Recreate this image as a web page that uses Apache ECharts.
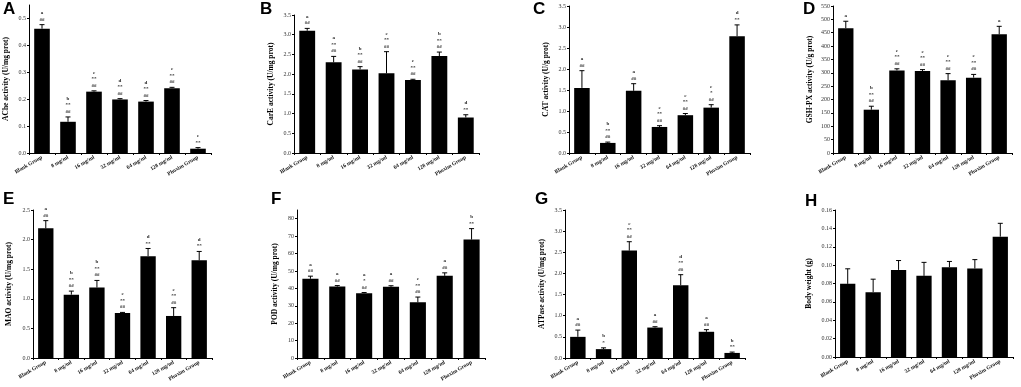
<!DOCTYPE html>
<html>
<head>
<meta charset="utf-8">
<script src="https://cdn.jsdelivr.net/npm/echarts@6/dist/echarts.min.js"></script>
<style>html,body{margin:0;padding:0;background:#fff}#main{width:1021px;height:387px}</style>
</head>
<body>
<div id="main"></div>
<script>
var groups = ['Blank Group', '8 mg/ml', '16 mg/ml', '32 mg/ml', '64 mg/ml', '128 mg/ml', 'Phoxim Group'];

// A - AChE
var acheMean = [0.462, 0.116, 0.228, 0.199, 0.191, 0.241, 0.016];
var acheErr = [0.015, 0.018, 0.003, 0.003, 0.004, 0.003, 0.004];
var acheMarks = ['a\n##', 'b\n**\n##', 'c\n**\n##', 'd\n**\n##', 'd\n**\n##', 'c\n**\n##', 'e\n**'];
// B - CarE
var careMean = [3.10, 2.30, 2.12, 2.02, 1.85, 2.46, 0.90];
var careErr = [0.06, 0.15, 0.07, 0.55, 0.02, 0.10, 0.07];
var careMarks = ['a\n##', 'a\n**\n##', 'b\n**\n##', 'c\n**\n##', 'c\n**\n##', 'b\n**\n##', 'd\n**'];
// C - CAT
var catMean = [1.55, 0.24, 1.48, 0.62, 0.90, 1.08, 2.78];
var catErr = [0.41, 0.02, 0.17, 0.03, 0.04, 0.07, 0.27];
var catMarks = ['a\n##', 'b\n**\n##', 'a\n##', 'c\n**\n##', 'c\n**\n##', 'c\n*\n##', 'd\n**'];
// D - GSH-PX
var gshMean = [467, 162, 309, 307, 272, 282, 444];
var gshErr = [26, 13, 6, 5, 25, 12, 30];
var gshMarks = ['a', 'b\n**\n##', 'c\n**\n##', 'c\n**\n##', 'c\n**\n##', 'c\n**\n##', 'a'];
// E - MAO
var maoMean = [2.19, 1.07, 1.19, 0.76, 1.72, 0.71, 1.65];
var maoErr = [0.13, 0.06, 0.12, 0.01, 0.13, 0.14, 0.15];
var maoMarks = ['a\n##', 'b\n**\n##', 'b\n**\n##', 'c\n**\n##', 'd\n**', 'c\n**\n##', 'd\n**'];
// F - POD
var podMean = [45.5, 41.0, 37.2, 40.9, 32.0, 47.2, 68.0];
var podErr = [1.5, 0.6, 0.4, 0.6, 3.0, 1.7, 6.3];
var podMarks = ['a\n##', 'a\n##', 'a\n*\n##', 'a\n##', 'c\n**\n##', 'a\n##', 'b\n**'];
// G - ATPase
var atpMean = [0.50, 0.21, 2.54, 0.72, 1.72, 0.62, 0.12];
var atpErr = [0.16, 0.03, 0.21, 0.02, 0.25, 0.05, 0.02];
var atpMarks = ['a\n##', 'b\n*', 'c\n**\n##', 'a\n##', 'd\n**\n##', 'a\n##', 'b\n**'];
// H - body weight
var bwMean = [0.0796, 0.0706, 0.0948, 0.0883, 0.0977, 0.0963, 0.131];
var bwErr = [0.0164, 0.0141, 0.0102, 0.0147, 0.0063, 0.0097, 0.0145];
var bwMarks = ['', '', '', '', '', '', ''];

var panels = [
  {tag: 'A', name: 'AChe activity (U/mg prot)', mean: acheMean, err: acheErr, marks: acheMarks, max: 0.55, interval: 0.1, digits: 1, hideMax: true, grid: [29, 5, 182, 148], tagPos: [3, 1], gap: 19},
  {tag: 'B', name: 'CarE activity (U/mg prot)', mean: careMean, err: careErr, marks: careMarks, max: 3.5, interval: 0.5, digits: 1, grid: [294, 15, 185, 138], tagPos: [260, 1], gap: 19},
  {tag: 'C', name: 'CAT activity (U/g prot)', mean: catMean, err: catErr, marks: catMarks, max: 3.5, interval: 0.5, digits: 1, grid: [569, 6, 181, 147], tagPos: [533, 1], gap: 19},
  {tag: 'D', name: 'GSH-PX activity (U/g prot)', mean: gshMean, err: gshErr, marks: gshMarks, max: 550, interval: 50, digits: 0, grid: [833, 6, 179, 147], tagPos: [803, 1], gap: 19},
  {tag: 'E', name: 'MAO activity (U/mg prot)', mean: maoMean, err: maoErr, marks: maoMarks, max: 2.5, interval: 0.5, digits: 1, grid: [33, 210, 179, 148], tagPos: [3, 191], gap: 20},
  {tag: 'F', name: 'POD activity (U/mg prot)', mean: podMean, err: podErr, marks: podMarks, max: 85, interval: 10, digits: 0, hideMax: true, grid: [297, 210, 188, 148], tagPos: [271, 191], gap: 18},
  {tag: 'G', name: 'ATPase activity (U/mg prot)', mean: atpMean, err: atpErr, marks: atpMarks, max: 3.5, interval: 0.5, digits: 1, grid: [565, 210, 180, 148], tagPos: [535, 191], gap: 19},
  {tag: 'H', name: 'Body weight (g)', mean: bwMean, err: bwErr, marks: bwMarks, max: 0.16, interval: 0.02, digits: 2, grid: [835, 210, 178, 147], tagPos: [805, 193], gap: 22}
];

function errRenderer(marks) {
  return function (params, api) {
    var i = api.value(0);
    var base = api.coord([i, api.value(1)]);
    var top = api.coord([i, api.value(2)]);
    return {
      type: 'group',
      children: [
        {type: 'line', shape: {x1: base[0], y1: base[1], x2: top[0], y2: top[1]}, style: {stroke: '#000', lineWidth: 1}},
        {type: 'line', shape: {x1: top[0] - 2.5, y1: top[1], x2: top[0] + 2.5, y2: top[1]}, style: {stroke: '#000', lineWidth: 1}},
        {type: 'text', x: top[0], y: top[1] - 2, style: {
          text: marks[params.dataIndex], fill: '#222', fontSize: 5, fontWeight: 'bold',
          fontFamily: 'Liberation Serif', align: 'center', verticalAlign: 'bottom', lineHeight: 6.5
        }}
      ]
    };
  };
}

var option = {backgroundColor: '#fff', animation: false, title: [], grid: [], xAxis: [], yAxis: [], series: []};

panels.forEach(function (p, k) {
  option.title.push({text: p.tag, left: p.tagPos[0], top: p.tagPos[1], padding: 0,
    textStyle: {fontFamily: 'Liberation Sans', fontWeight: 'bold', fontSize: 17, color: '#000'}});
  option.grid.push({left: p.grid[0], top: p.grid[1], width: p.grid[2], height: p.grid[3], containLabel: false});
  option.xAxis.push({
    type: 'category', gridIndex: k, data: groups,
    axisLine: {lineStyle: {color: '#000', width: 1}},
    axisTick: {show: true, length: 2, interval: 0, lineStyle: {color: '#000'}},
    axisLabel: {interval: 0, rotate: 30, fontSize: 5.5, fontWeight: 'bold', fontFamily: 'Liberation Serif', color: '#111', margin: 4}
  });
  option.yAxis.push({
    type: 'value', gridIndex: k, min: 0, max: p.max, interval: p.interval,
    name: p.name, nameLocation: 'middle', nameGap: p.gap,
    nameTextStyle: {fontFamily: 'Liberation Serif', fontWeight: 'bold', fontSize: 7.5, color: '#000'},
    splitLine: {show: false},
    axisLine: {show: true, lineStyle: {color: '#000', width: 1}},
    axisTick: {show: true, length: 2, lineStyle: {color: '#000'}},
    axisLabel: {fontSize: 6, fontFamily: 'Liberation Serif', color: '#333', margin: 3,
      showMaxLabel: !p.hideMax,
      formatter: function (v) { return v.toFixed(p.digits); }}
  });
  option.series.push({
    type: 'bar', xAxisIndex: k, yAxisIndex: k, barWidth: '60%',
    itemStyle: {color: '#000'}, data: p.mean
  });
  option.series.push({
    type: 'custom', xAxisIndex: k, yAxisIndex: k, z: 3,
    renderItem: errRenderer(p.marks),
    data: p.mean.map(function (m, i) { return [i, m, m + p.err[i]]; })
  });
});

var chart = echarts.init(document.getElementById('main'));
chart.setOption(option);
</script>
</body>
</html>
